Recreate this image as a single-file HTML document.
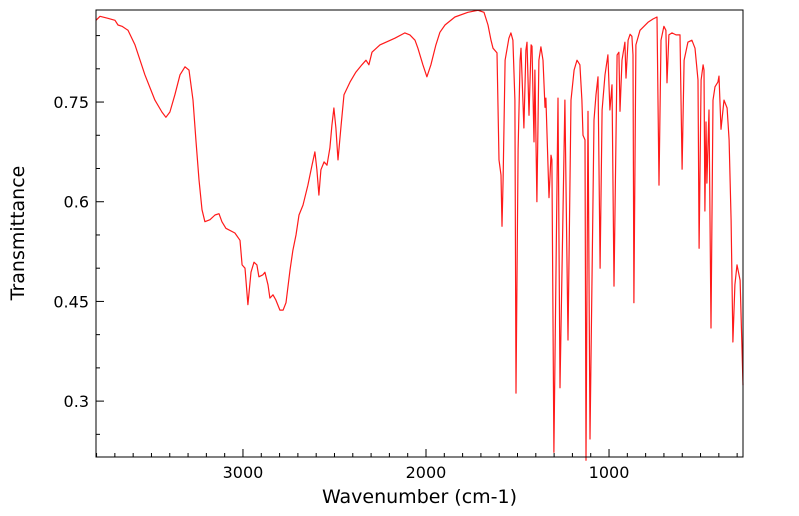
<!DOCTYPE html>
<html><head><meta charset="utf-8"><style>
html,body{margin:0;padding:0;background:#fff}
svg{display:block;font-family:"DejaVu Sans","Liberation Sans",sans-serif}
</style></head><body>
<svg id="chart" width="799" height="516" viewBox="0 0 799 516" xmlns="http://www.w3.org/2000/svg">
<g id="axes"></g>
<polyline id="line" fill="none" stroke="#ff1a1a" stroke-width="1.2" stroke-linejoin="round"/>
<rect x="96" y="10" width="647" height="447" fill="none" stroke="#000" stroke-width="1"/>
<text x="419.5" y="503" font-size="19" text-anchor="middle">Wavenumber (cm-1)</text>
<text transform="translate(24,233) rotate(-90)" font-size="19" text-anchor="middle">Transmittance</text>
</svg>
<script>
const wavenumbers=[3803,3781,3738,3699,3683,3661,3628,3590,3536,3481,3443,3421,3399,3372,3344,3317,3295,3273,3257,3240,3224,3208,3180,3153,3131,3115,3093,3044,3016,3005,2989,2973,2956,2940,2924,2913,2891,2880,2863,2853,2836,2820,2798,2781,2765,2743,2727,2710,2694,2672,2645,2623,2607,2596,2585,2574,2557,2541,2525,2514,2503,2492,2481,2464,2448,2415,2383,2350,2328,2312,2295,2252,2170,2115,2088,2060,2044,2017,1995,1973,1946,1924,1896,1842,1771,1716,1683,1661,1645,1634,1612,1601,1590,1585,1579,1568,1547,1536,1525,1514,1508,1497,1486,1481,1465,1454,1448,1437,1426,1421,1410,1405,1394,1383,1372,1361,1350,1345,1328,1317,1312,1301,1279,1268,1241,1224,1208,1191,1175,1159,1148,1142,1131,1126,1115,1104,1082,1071,1060,1049,1038,1022,1006,995,984,973,956,946,940,929,913,907,896,885,875,869,864,853,831,787,760,738,727,716,700,689,683,673,656,634,612,601,590,569,547,530,514,508,497,486,481,476,470,465,454,443,432,421,405,399,388,372,355,344,333,323,312,301,284,268];
const transmittance=[0.873,0.879,0.876,0.873,0.866,0.864,0.858,0.836,0.791,0.753,0.735,0.727,0.735,0.761,0.791,0.803,0.798,0.753,0.693,0.633,0.588,0.570,0.573,0.580,0.582,0.570,0.560,0.553,0.542,0.505,0.500,0.445,0.494,0.509,0.505,0.487,0.490,0.494,0.475,0.455,0.460,0.452,0.437,0.437,0.448,0.497,0.527,0.550,0.580,0.595,0.625,0.655,0.675,0.648,0.610,0.648,0.660,0.655,0.681,0.715,0.741,0.711,0.663,0.715,0.761,0.780,0.795,0.806,0.813,0.806,0.825,0.836,0.846,0.854,0.851,0.843,0.831,0.806,0.788,0.806,0.836,0.855,0.866,0.878,0.885,0.888,0.885,0.866,0.843,0.831,0.824,0.663,0.640,0.563,0.633,0.813,0.846,0.854,0.843,0.753,0.312,0.678,0.813,0.831,0.711,0.828,0.840,0.730,0.836,0.834,0.690,0.798,0.600,0.813,0.833,0.813,0.742,0.756,0.606,0.670,0.663,0.223,0.756,0.320,0.753,0.392,0.753,0.798,0.813,0.806,0.753,0.700,0.693,0.211,0.736,0.243,0.723,0.761,0.788,0.500,0.738,0.791,0.821,0.738,0.776,0.473,0.821,0.825,0.736,0.813,0.840,0.786,0.843,0.852,0.849,0.821,0.448,0.836,0.858,0.870,0.875,0.878,0.625,0.843,0.864,0.858,0.779,0.851,0.854,0.851,0.851,0.649,0.813,0.840,0.843,0.831,0.783,0.530,0.783,0.806,0.798,0.586,0.720,0.628,0.738,0.410,0.753,0.773,0.780,0.789,0.709,0.753,0.741,0.693,0.572,0.389,0.475,0.505,0.482,0.324];
const xTickLabels=[3000,2000,1000];
const yTickLabels=[0.75,0.6,0.45,0.3];

const X0=96,X1=743,Y0=10,Y1=457;
const wnMax=3803,wnMin=268,tMax=0.8885,tMin=0.2159;
function xs(w){return X0+(wnMax-w)/(wnMax-wnMin)*(X1-X0);}
function ys(t){return Y0+(tMax-t)/(tMax-tMin)*(Y1-Y0);}
const NS='http://www.w3.org/2000/svg';
const axes=document.getElementById('axes');
function mk(tag,attrs){const e=document.createElementNS(NS,tag);for(const k in attrs)e.setAttribute(k,attrs[k]);axes.appendChild(e);return e;}

for(let w=3800;w>=300;w-=100){
  const major=(w%1000===0);
  const x=xs(w);
  const t=mk('line',{x1:x,x2:x,y1:Y1,y2:Y1-(major?8:4),stroke:'#000','stroke-width':1});
  
  
}
xTickLabels.forEach(v=>{
  const t=mk('text',{x:xs(v),y:Y1+21,'font-size':16,'text-anchor':'middle'});
  t.textContent=String(v);
  
  
});
for(let k=5;k<=17;k++){
  const v=k*0.05;
  const y=ys(v);
  if(y<Y0||y>Y1)continue;
  const major=(k%3===0);
  const t=mk('line',{x1:X0,x2:X0+(major?8:4),y1:y,y2:y,stroke:'#000','stroke-width':1});
  
  
}
yTickLabels.forEach(v=>{
  const t=mk('text',{x:X0-7,y:ys(v)+6,'font-size':16,'text-anchor':'end'});
  t.textContent=String(v);
  
  
});
document.getElementById('line').setAttribute('points',wavenumbers.map((w,i)=>xs(w).toFixed(1)+','+ys(transmittance[i]).toFixed(1)).join(' '));
</script>
</body></html>
